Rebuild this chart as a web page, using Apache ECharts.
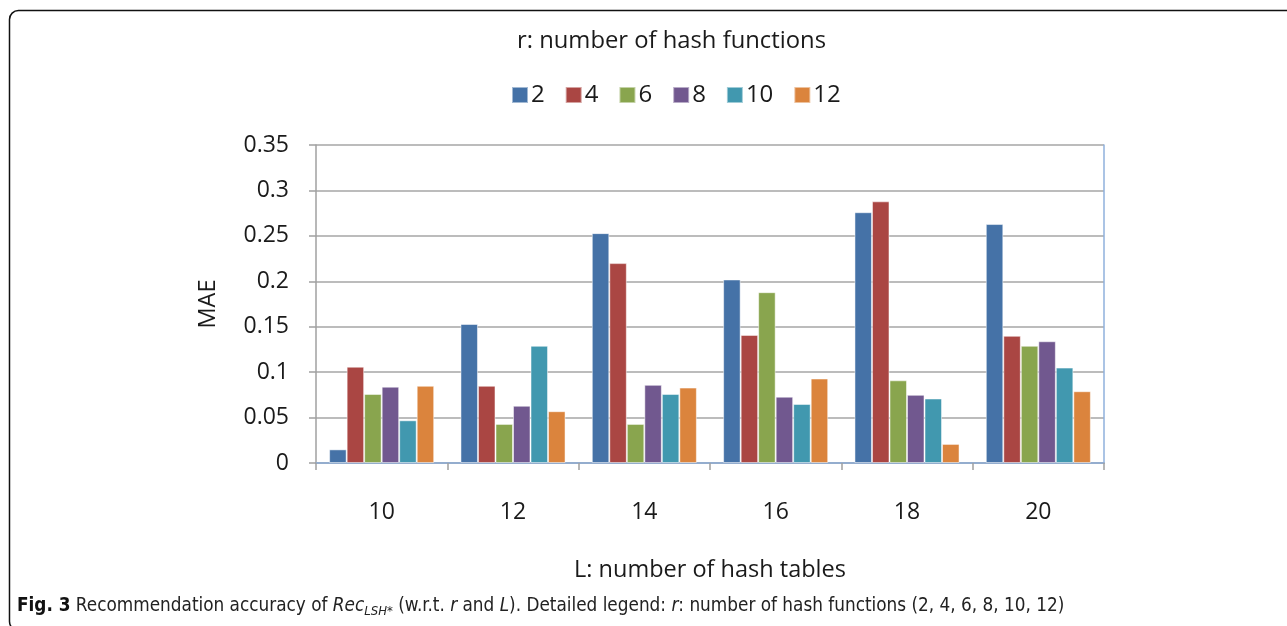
<!DOCTYPE html>
<html><head><meta charset="utf-8">
<script src="https://cdn.jsdelivr.net/npm/echarts@6/dist/echarts.min.js"></script>
<style>html,body{margin:0;padding:0;background:#fff}#c{width:1287px;height:626px}</style>
</head><body><div id="c"></div>
<script>
const categories = ['10', '12', '14', '16', '18', '20'];
const seriesNames = ['2', '4', '6', '8', '10', '12'];
const r2  = [0.015, 0.153, 0.253, 0.202, 0.276, 0.263];
const r4  = [0.106, 0.085, 0.220, 0.141, 0.288, 0.140];
const r6  = [0.076, 0.043, 0.043, 0.188, 0.091, 0.129];
const r8  = [0.084, 0.063, 0.086, 0.073, 0.075, 0.134];
const r10 = [0.047, 0.129, 0.076, 0.065, 0.071, 0.105];
const r12 = [0.085, 0.057, 0.083, 0.093, 0.021, 0.079];
const seriesData = [r2, r4, r6, r8, r10, r12];
const colors = ['#4572a7', '#aa4643', '#89a54e', '#71588f', '#4198af', '#db843d'];
const FONT = '"Open Sans", "Noto Sans", sans-serif';
const CAP = '"DejaVu Sans Condensed", "Liberation Sans Narrow", sans-serif';

const chart = echarts.init(document.getElementById('c'), null, {renderer: 'canvas'});
chart.setOption({
  animation: false,
  color: colors,
  title: {
    text: 'r: number of hash functions',
    left: 512, top: 24,
    textStyle: {fontFamily: FONT, fontSize: 23.8, fontWeight: 'normal', color: '#1a1a1a'}
  },
  legend: {
    top: 78, left: 506,
    itemWidth: 16, itemHeight: 16, itemGap: 20,
    icon: 'rect',
    textStyle: {fontFamily: FONT, fontSize: 24, color: '#1a1a1a', padding: [0, 0, 0, -2]},
    data: seriesNames
  },
  grid: {left: 316, right: 183, top: 145, bottom: 163, containLabel: false},
  xAxis: [{
    type: 'category', data: categories,
    axisLine: {lineStyle: {color: '#a0a0a0', width: 1.5}},
    axisTick: {show: true, length: 7, lineStyle: {color: '#a0a0a0', width: 1.5}},
    axisLabel: {fontFamily: FONT, fontSize: 23, color: '#1a1a1a', margin: 38},
    name: 'L: number of hash tables', nameLocation: 'middle', nameGap: 95,
    nameTextStyle: {fontFamily: FONT, fontSize: 23.5, color: '#1a1a1a'}
  }, {
    type: 'category', data: categories, position: 'top',
    axisLine: {lineStyle: {color: '#8fb0dc', width: 1.5}},
    axisTick: {show: false}, axisLabel: {show: false}
  }],
  yAxis: [{
    type: 'value', min: 0, max: 0.35, interval: 0.05,
    axisLine: {show: true, lineStyle: {color: '#a0a0a0', width: 1.5}},
    axisTick: {show: true, length: 7, lineStyle: {color: '#a0a0a0', width: 1.5}},
    axisLabel: {fontFamily: FONT, fontSize: 23, color: '#1a1a1a', margin: 27},
    splitLine: {lineStyle: {color: '#a6a6a6', width: 1.5}},
    name: 'MAE', nameLocation: 'middle', nameGap: 96, nameRotate: 90,
    nameTextStyle: {fontFamily: FONT, fontSize: 23.5, color: '#1a1a1a'}
  }, {
    type: 'value', min: 0, max: 0.35, interval: 0.05, position: 'right',
    axisLine: {show: true, lineStyle: {color: '#8fb0dc', width: 1.5}},
    axisTick: {show: false}, axisLabel: {show: false}, splitLine: {show: false}
  }],
  series: seriesData.map((d, i) => ({
    name: seriesNames[i], type: 'bar', data: d,
    barGap: '0%', barCategoryGap: '20%',
    itemStyle: {borderColor: 'rgba(255,255,255,0.5)', borderWidth: 1}
  })),
  graphic: [
    {type: 'rect', shape: {x: 9.5, y: 10.5, width: 1400, height: 620, r: 9},
     style: {fill: 'none', stroke: '#111', lineWidth: 1.5}, silent: true},
    {type: 'text', left: 17, top: 597,
     style: {
       text: '{b|Fig. 3} Recommendation accuracy of {i|Rec}{sub|LSH*} (w.r.t. {i|r} and {i|L}). Detailed legend: {i|r}: number of hash functions (2, 4, 6, 8, 10, 12)',
       font: '18.8px ' + CAP,
       fill: '#222',
       rich: {
         b: {fontWeight: 'bold', fontSize: 18.8, fontFamily: CAP, fill: '#111'},
         i: {fontStyle: 'italic', fontSize: 18.8, fontFamily: CAP},
         sub: {fontStyle: 'italic', fontSize: 13, fontFamily: CAP, padding: [11, 0, 0, 0], verticalAlign: 'bottom'}
       }
     }}
  ]
});
</script></body></html>
